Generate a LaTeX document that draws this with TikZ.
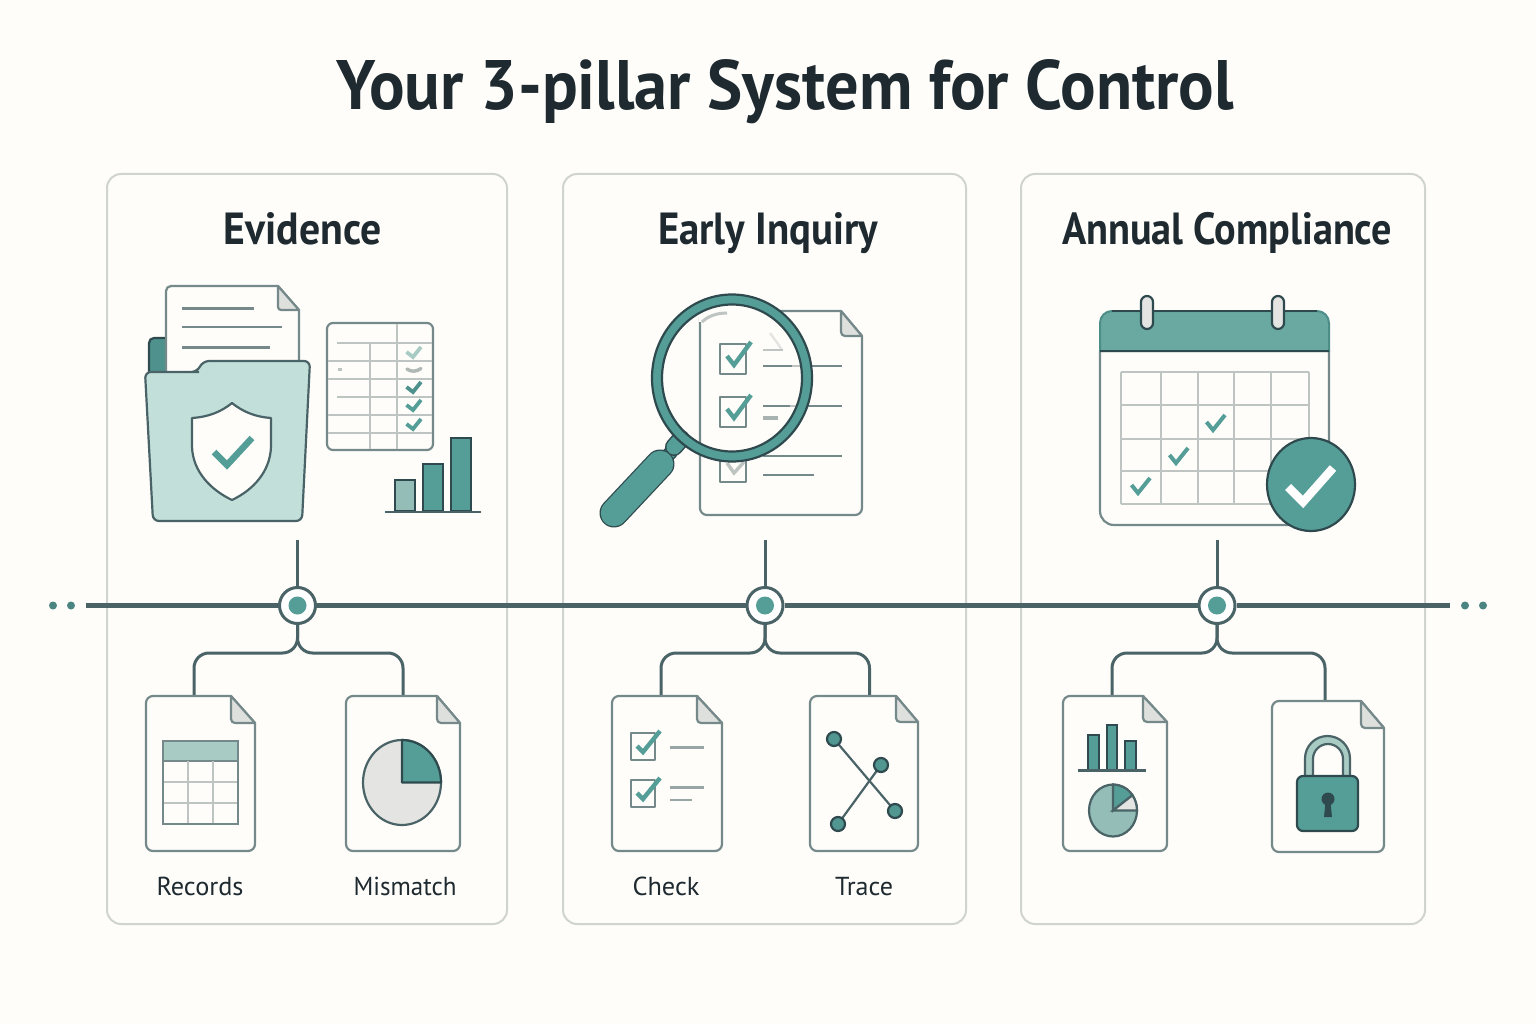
\documentclass[tikz,border=0pt]{standalone}
\usepackage{fontspec}
\usepackage{graphicx}
\setmainfont{PT Sans}
\definecolor{paper}{HTML}{FEFDFA}
\definecolor{inkc}{HTML}{1E2A30}
\definecolor{dark}{HTML}{2F4A4E}
\definecolor{spinec}{HTML}{4A6367}
\definecolor{teal}{HTML}{559E97}
\definecolor{headt}{HTML}{69A9A2}
\definecolor{midt}{HTML}{94BDB7}
\definecolor{pale}{HTML}{A8CBC4}
\definecolor{folder}{HTML}{C3DFDA}
\definecolor{panelc}{HTML}{D0D4D1}
\definecolor{docc}{HTML}{76898A}
\definecolor{gridc}{HTML}{BEC4C1}
\definecolor{foldc}{HTML}{DDE0DD}
\definecolor{lightg}{HTML}{E4E5E2}
\newcommand\fitw[2]{\resizebox{#1pt}{\height}{#2}}
\newcommand\docshape[6]{%
 \draw[docline,fill=paper] (#5,#2) -- (#3,#6) [rounded corners=7pt] -- (#3,#4) -- (#1,#4) -- (#1,#2) [sharp corners] -- cycle;
 \draw[docline,fill=foldc] (#5,#2) [rounded corners=4pt] -- (#5,#6) [sharp corners] -- (#3,#6) -- cycle;}
\newcommand\chk[3]{\draw[chkline,#3] (#1-6.5,#2-5) -- (#1,#2) -- (#1+8,#2-10);}
\newcommand\calchk[2]{\draw[chkline,line width=4pt] (#1-6.5,#2-8) -- (#1,#2) -- (#1+12,#2-15);}
\newcommand\branch[2]{\draw[conn,rounded corners=15pt] (#1.south) -- (#1.south |- 0,653) -- (#2 |- 0,653) -- (#2);}
\tikzset{
 panel/.style={draw=panelc,line width=2pt,fill=paper,rounded corners=14pt},
 ptitle/.style={inner sep=0pt,anchor=base,text=inkc,font=\fontsize{45}{50}\selectfont\bfseries},
 lab/.style={inner sep=0pt,anchor=base,text=inkc,font=\fontsize{26}{30}\selectfont},
 conn/.style={draw=spinec,line width=3pt},
 spine/.style={draw=spinec,line width=4.4pt},
 hubnode/.style={circle,minimum size=36pt,inner sep=0pt,draw=spinec,line width=3pt,fill=white},
 docline/.style={draw=docc,line width=2.2pt,line join=round},
 txtline/.style={draw=docc,line width=2.2pt},
 gridl/.style={draw=gridc,line width=2.6pt},
 chkline/.style={draw=teal,line width=3.8pt,line join=miter},
 darkl/.style={draw=dark,line width=2.2pt},
}
\begin{document}
\begin{tikzpicture}[x=1pt,y=-1pt]
\useasboundingbox (0,0) rectangle (1536,1024);
\fill[paper] (0,0) rectangle (1536,1024);
\node[inner sep=0pt,anchor=base,text=inkc,font=\fontsize{70}{76}\selectfont\bfseries] (title) at (785.5,110) {\fitw{897}{Your 3-pillar System for Control}};
% panels
\draw[panel] (107,174) rectangle (507,924);
\draw[panel] (563,174) rectangle (966,924);
\draw[panel] (1021,174) rectangle (1425,924);
\node[ptitle] (t1) at (303,245) {\fitw{158}{Evidence}};
\node[ptitle] (t2) at (768,245) {\fitw{220}{Early Inquiry}};
\node[ptitle] (t3) at (1227,245) {\fitw{330}{Annual Compliance}};
% ---- Evidence illustration
\draw[darkl,fill=teal!85!dark,rounded corners=5pt] (149,385) -- (149,338) -- (172,338) -- (172,385);
\draw[docline,fill=paper] (278,286) -- (299,310) -- (299,380) -- (166,380) [rounded corners=5pt] -- (166,286) [sharp corners] -- cycle;
\draw[docline,fill=foldc] (278,286) [rounded corners=3pt] -- (278,310) [sharp corners] -- (299,310) -- cycle;
\draw[txtline] (182,308.5) -- (254,308.5);
\draw[txtline] (182,327) -- (282,327);
\draw[txtline] (182,347.5) -- (270,347.5);
\draw[draw=spinec,line width=2.2pt,fill=folder,rounded corners=6pt] (145,372) -- (193,372) -- (197,372) -- (203,361) -- (310,361) -- (302,521) -- (153,521) -- cycle;
\draw[draw=spinec,line width=2.2pt,fill=paper,line join=round] (232,403) .. controls (243,412) and (256,417) .. (271,418) -- (271,447) .. controls (270,472) and (253,490) .. (232,500) .. controls (211,490) and (193,472) .. (192,447) -- (192,418) .. controls (208,417) and (221,412) .. (232,403) -- cycle;
\draw[draw=teal,line width=6.5pt] (214,452) -- (227,465) -- (252,438);
% table
\draw[draw=docc,line width=2.2pt,fill=paper,rounded corners=6pt] (327,323) rectangle (433,450);
\draw[gridl] (337,343) -- (432,343);
\draw[gridl] (328,361) -- (432,361);
\draw[gridl] (328,379) -- (432,379);
\draw[gridl] (337,397) -- (432,397);
\draw[gridl] (328,415) -- (432,415);
\draw[gridl] (328,433) -- (432,433);
\draw[gridl] (370,343) -- (370,449);
\draw[gridl] (397,324) -- (397,449);
\chk{413}{357}{draw=pale}
\draw[draw=gridc!80!docc,line width=3.4pt,line cap=round] (407,369) .. controls (411,372) and (416,372) .. (421,368.5);
\fill[gridc] (337.5,368) rectangle (342,371);
\chk{413}{392}{draw=teal!85!dark}
\chk{413}{410}{}
\chk{413}{429}{}
% bars
\draw[darkl,fill=midt] (395,511) rectangle (415,480);
\draw[darkl,fill=teal] (423,511) rectangle (443,464);
\draw[darkl,fill=teal] (451,511) rectangle (471,438);
\draw[draw=spinec,line width=2.4pt] (385,512) -- (481,512);
% ---- Inquiry illustration
\draw[docline,fill=paper] (841,311) -- (862,336) [rounded corners=7pt] -- (862,515) -- (700,515) -- (700,311) [sharp corners] -- cycle;
\draw[docline,fill=foldc] (841,311) [rounded corners=4pt] -- (841,336) [sharp corners] -- (862,336) -- cycle;
\fill[paper] (699,309) rectangle (770,322);
\draw[draw=gridc,line width=3pt] (702,322) .. controls (708,316) and (717,313) .. (727,313);
\draw[draw=lightg,line width=2.4pt] (770,333) .. controls (775,340) and (779,345) .. (782,350);
\draw[draw=gridc,line width=2.4pt] (763,350) -- (783,350);
\draw[txtline] (763,365.7) -- (842,365.7);
\draw[txtline] (763,405.7) -- (842,405.7);
\draw[draw=gridc,line width=2.4pt] (792,365.7) -- (801,365.7);
\draw[draw=gridc,line width=2.4pt] (790,405.7) -- (801,405.7);
\draw[draw=gridc!70!docc,line width=3.4pt] (763,418) -- (778,418);
\draw[txtline] (763,456) -- (842,456);
\draw[txtline] (763,475) -- (814,475);
\draw[docline,fill=paper] (720,344) rectangle (746,374);
\draw[docline,fill=paper] (720,397) rectangle (746,427);
\draw[docline,fill=paper] (720,456) rectangle (746,482);
\draw[draw=teal,line width=4.4pt] (727,356) -- (734,365) -- (751,342);
\draw[draw=teal,line width=4.4pt] (727,409) -- (734,418) -- (751,395);
\draw[draw=gridc,line width=3.4pt] (727,463) -- (734,473) -- (744,462);
% magnifier
\draw[draw=dark,line width=14pt] (662,462) -- (672,451);
\draw[draw=teal,line width=11pt] (662,462) -- (672,451);
\draw[draw=dark,line width=18pt,line cap=round] (674,447) -- (681,439);
\draw[draw=teal,line width=15pt,line cap=round] (674,447) -- (681,439);
\draw[draw=dark,line width=29pt,line cap=round] (614,513) -- (660,464);
\draw[draw=teal,line width=26.5pt,line cap=round] (614,513) -- (660,464);
\draw[draw=dark,line width=2.2pt,fill=teal,even odd rule] (732,378) ellipse[x radius=80,y radius=83.5] (732,378) ellipse[x radius=70,y radius=73.5];
% ---- Calendar
\draw[docline,fill=paper] (1100,351) [rounded corners=14pt] -- (1100,525) -- (1329,525) [sharp corners] -- (1329,351) -- cycle;
\draw[draw=teal!80!dark,line width=2pt,fill=headt] (1100,351) [rounded corners=12pt] -- (1100,311) -- (1329,311) [sharp corners] -- (1329,351) -- cycle;
\draw[darkl] (1100,311) ++(12,0) -- (1317,311);
\draw[darkl] (1100,351) -- (1329,351);
\draw[draw=dark,line width=2.2pt,fill=lightg,rounded corners=6pt] (1141,296) rectangle (1153,329);
\draw[draw=dark,line width=2.2pt,fill=lightg,rounded corners=6pt] (1272,296) rectangle (1284,329);
\foreach \gx in {1121,1161,1198,1234,1271,1309} \draw[gridl] (\gx,372) -- (\gx,504);
\foreach \gy in {372,405,439,471,504} \draw[gridl] (1121,\gy) -- (1309,\gy);
\calchk{1213}{430}
\calchk{1176}{463}
\calchk{1138}{493}
\draw[darkl,fill=teal] (1311,484.5) ellipse[x radius=44,y radius=46.5];
\draw[draw=white,line width=8.5pt] (1288,487) -- (1303,502) -- (1333,468);
% ---- spine
\coordinate (spineL) at (86,605.5);
\coordinate (spineR) at (1450,605.5);
\node[hubnode] (hub1) at (297.5,605.5) {};
\node[hubnode] (hub2) at (765,605.5) {};
\node[hubnode] (hub3) at (1217,605.5) {};
\draw[spine] (spineL) -- (hub1);
\draw[spine] (hub1) -- (hub2);
\draw[spine] (hub2) -- (hub3);
\draw[spine] (hub3) -- (spineR);
\foreach \h in {297.5,765,1217} \fill[teal] (\h,605.5) circle[radius=9];
\foreach \d in {53,71,1465,1483} \fill[teal!70!dark] (\d,605.5) circle[radius=4];
\coordinate (up1) at (297.5,540);
\coordinate (up2) at (765,540);
\coordinate (up3) at (1217,540);
\draw[conn] (up1) -- (hub1);
\draw[conn] (up2) -- (hub2);
\draw[conn] (up3) -- (hub3);
\coordinate (recTop) at (194,696);
\coordinate (misTop) at (403,696);
\coordinate (chkTop) at (661,696);
\coordinate (traTop) at (869.5,696);
\coordinate (chaTop) at (1112,696);
\coordinate (locTop) at (1325,701);
\branch{hub1}{recTop}
\branch{hub1}{misTop}
\branch{hub2}{chkTop}
\branch{hub2}{traTop}
\branch{hub3}{chaTop}
\branch{hub3}{locTop}
% ---- Records
\docshape{146}{696}{255}{851}{231}{723}
\draw[darkl,fill=pale,draw=docc] (163,741) rectangle (238,761);
\foreach \gx in {188,213} \draw[gridl] (\gx,761) -- (\gx,824);
\foreach \gy in {782,803} \draw[gridl] (163,\gy) -- (238,\gy);
\draw[draw=docc,line width=2.2pt] (163,741) rectangle (238,824);
\node[lab] (l1) at (200,895) {\fitw{87}{Records}};
% ---- Mismatch
\docshape{346}{696}{460}{851}{437}{723}
\draw[draw=spinec,line width=2.2pt,fill=lightg] (402,782.5) ellipse[x radius=39,y radius=42.5];
\draw[darkl,fill=teal,line join=round] (402,782.5) -- (402,740) arc[start angle=-90,end angle=0,x radius=39,y radius=42.5] -- cycle;
\node[lab] (l2) at (405,895) {\fitw{103}{Mismatch}};
% ---- Check
\docshape{612}{696}{722}{851}{697}{723}
\draw[docline] (631,733) rectangle (655,760);
\draw[docline] (631,780) rectangle (655,807);
\draw[draw=teal,line width=4.4pt] (637,746) -- (643,752) -- (660,731);
\draw[draw=teal,line width=4.4pt] (637,793) -- (643,799) -- (660,778);
\draw[draw=gridc!50!docc,line width=2.2pt] (670,747.5) -- (704,747.5);
\draw[draw=gridc!50!docc,line width=2.2pt] (670,787.5) -- (704,787.5);
\draw[draw=gridc!50!docc,line width=2.2pt] (670,800) -- (692,800);
\node[lab] (l3) at (666,895) {\fitw{67}{Check}};
% ---- Trace
\docshape{810}{696}{918}{851}{896}{722}
\coordinate (ta) at (834,739);
\coordinate (tb) at (895,811);
\coordinate (tc) at (881,765);
\coordinate (td) at (838,824);
\draw[draw=spinec,line width=2.2pt] (ta) -- (tb);
\draw[draw=spinec,line width=2.2pt] (tc) -- (td);
\foreach \p in {ta,tb,tc,td} \draw[darkl,fill=teal!90!dark] (\p) circle[radius=7];
\node[lab] (l4) at (864,895) {\fitw{58}{Trace}};
% ---- Charts doc
\docshape{1063}{696}{1167}{851}{1143}{722}
\draw[darkl,fill=teal] (1088,770) rectangle (1099,735);
\draw[darkl,fill=teal] (1107,770) rectangle (1117,725);
\draw[darkl,fill=teal] (1125,770) rectangle (1136,741);
\draw[draw=spinec,line width=2.4pt] (1078,770.5) -- (1146,770.5);
\draw[draw=spinec,line width=2.2pt,fill=midt] (1113,810.5) ellipse[x radius=24,y radius=26];
\draw[darkl,draw=spinec,fill=teal] (1113,810.5) -- (1113,784.5) arc[start angle=-90,end angle=-36,x radius=24,y radius=26] -- cycle;
\draw[darkl,draw=spinec,fill=lightg] (1113,810.5) -- ({1113+24*cos(36)},{810.5-26*sin(36)}) arc[start angle=-36,end angle=0,x radius=24,y radius=26] -- cycle;
% ---- Lock doc
\docshape{1272}{701}{1384}{852}{1361}{728}
\draw[darkl,draw=spinec,fill=pale,even odd rule] (1305,780) -- (1305,758.5) arc[start angle=180,end angle=360,radius=22.5] -- (1350,780) -- (1343,780) -- (1343,759) arc[start angle=360,end angle=180,radius=15] -- (1313,780) -- cycle;
\draw[darkl,fill=teal,rounded corners=6pt] (1297,776) rectangle (1358,831);
\fill[dark] (1328,799) circle[radius=6.5];
\fill[dark] (1325.5,802) -- (1330.5,802) -- (1332,817) -- (1324,817) -- cycle;
\end{tikzpicture}
\end{document}
